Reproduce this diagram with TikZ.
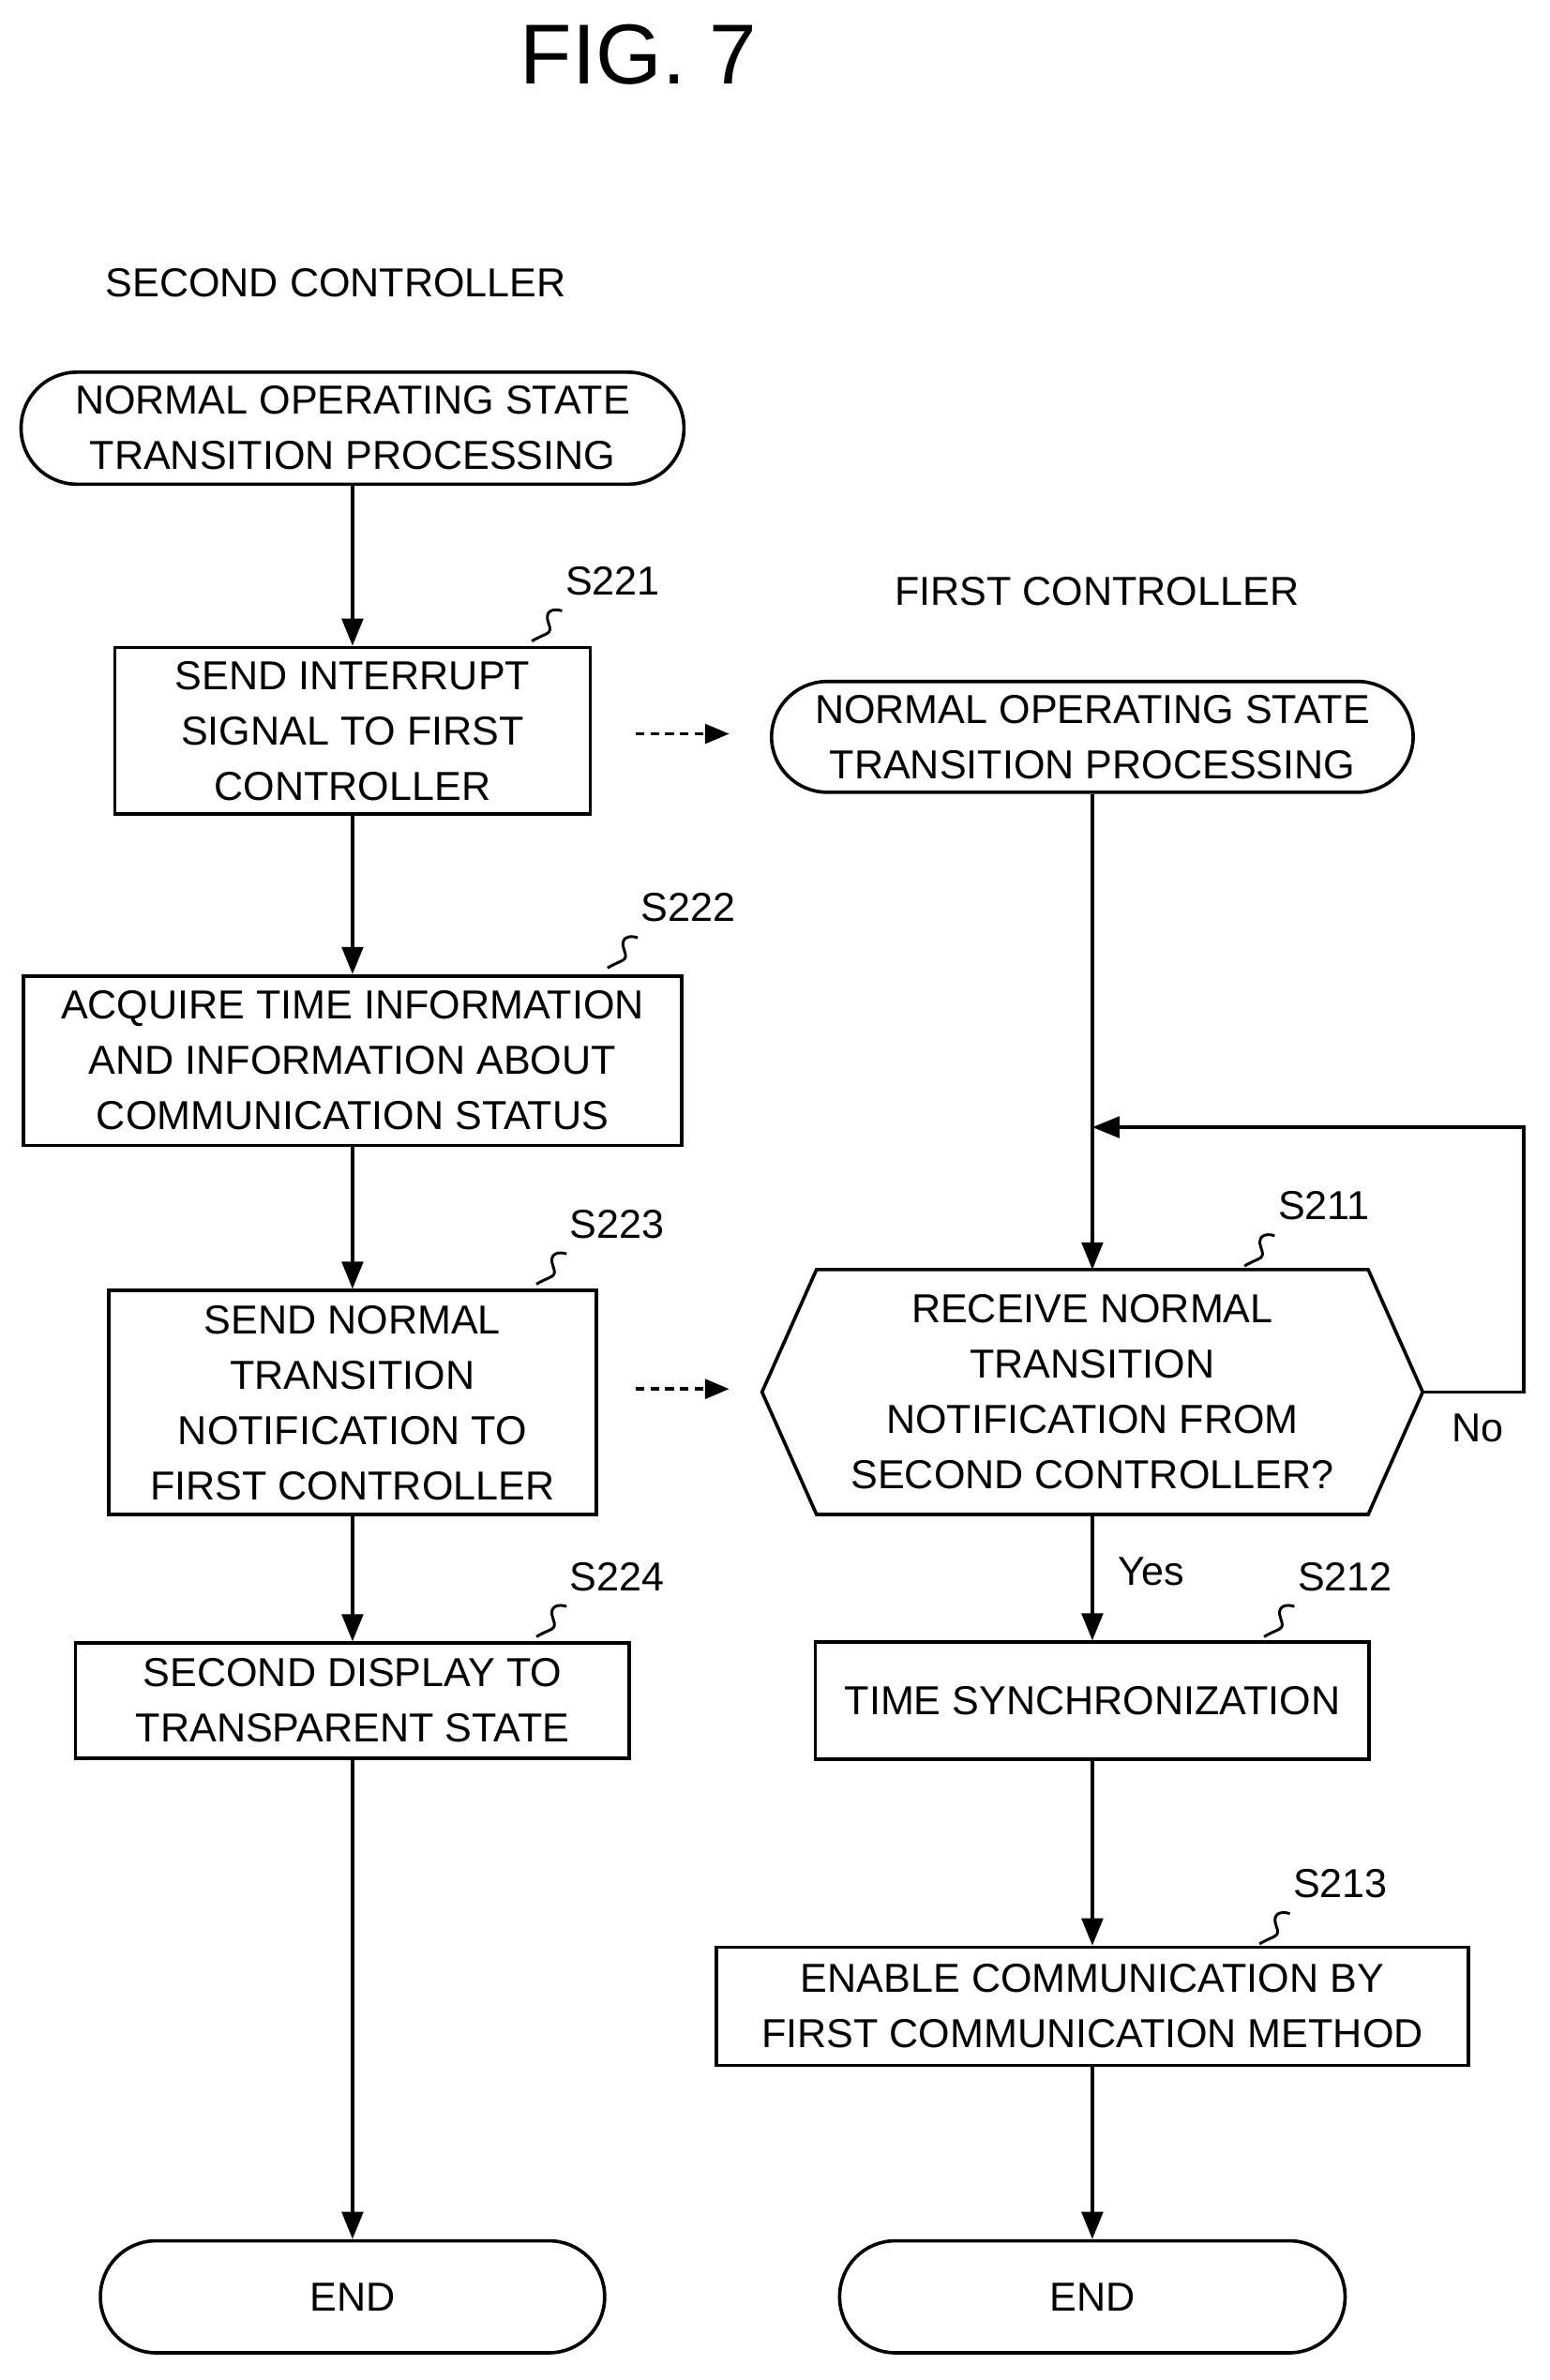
\documentclass[tikz,border=0pt]{standalone}
\usepackage{fontspec}
\setsansfont{Liberation Sans}
\usepackage{tikz}
\usetikzlibrary{arrows.meta,positioning,calc}

\tikzset{
  box/.style={draw, line width=1.6pt, align=center, inner sep=0pt},
  term/.style={box, rounded corners=0.92cm},
  flow/.style={line width=1.6pt, -{Triangle[length=0.45cm,width=0.35cm]}},
  dflow/.style={line width=1.6pt, dash pattern=on 4pt off 3pt, -{Triangle[length=0.4cm,width=0.32cm]}},
  lbl/.style={inner sep=0pt}
}
\newcommand{\squig}[1]{\draw[line width=1.3pt] ($(#1)+(-22,30)$) .. controls ($(#1)+(-12,24)$) and ($(#1)+(-8,26)$) .. ($(#1)+(-11,18)$) .. controls ($(#1)+(-14,10)$) and ($(#1)+(-8,8)$) .. ($(#1)+(-2,10)$);}

\begin{document}
\begin{tikzpicture}[x=0.025cm,y=-0.025cm,font=\sffamily\fontsize{19pt}{26pt}\selectfont]
  \useasboundingbox (0,0) rectangle (1024,1573);
  \node[lbl, font=\sffamily\fontsize{40pt}{40pt}\selectfont] (fig) at (422,36) {FIG. 7};
  \node[lbl] (hdl) at (222,187) {SECOND CONTROLLER};
  \node[lbl] (hdr) at (725,391) {FIRST CONTROLLER};

  % second controller
  \node[term, minimum width=10.95cm, minimum height=1.85cm] (sl) at (233,283) {NORMAL OPERATING STATE\\TRANSITION PROCESSING};
  \node[box, minimum width=7.85cm, minimum height=2.75cm] (s221) at (233,483) {SEND INTERRUPT\\SIGNAL TO FIRST\\CONTROLLER};
  \node[box, minimum width=10.88cm, minimum height=2.8cm] (s222) at (233,701) {ACQUIRE TIME INFORMATION\\AND INFORMATION ABOUT\\COMMUNICATION STATUS};
  \node[box, minimum width=8.05cm, minimum height=3.7cm] (s223) at (233,927) {SEND NORMAL\\TRANSITION\\NOTIFICATION TO\\FIRST CONTROLLER};
  \node[box, minimum width=9.15cm, minimum height=1.9cm] (s224) at (233,1124) {SECOND DISPLAY TO\\TRANSPARENT STATE};
  \node[term, minimum width=8.33cm, minimum height=1.85cm] (el) at (233,1518) {END};

  % first controller
  \node[term, minimum width=10.6cm, minimum height=1.83cm] (sr) at (722,487) {NORMAL OPERATING STATE\\TRANSITION PROCESSING};
  \node[align=center, inner sep=0pt, minimum width=10.9cm, minimum height=4.03cm] (s211) at (722,920) {RECEIVE NORMAL\\TRANSITION\\NOTIFICATION FROM\\SECOND CONTROLLER?};
  \draw[line width=1.6pt] (s211.west) -- ([xshift=0.9cm]s211.north west) -- ([xshift=-0.9cm]s211.north east)
    -- (s211.east) -- ([xshift=-0.9cm]s211.south east) -- ([xshift=0.9cm]s211.south west) -- cycle;
  \node[box, minimum width=9.15cm, minimum height=1.93cm] (s212) at (722,1124) {TIME SYNCHRONIZATION};
  \node[box, minimum width=12.43cm, minimum height=1.95cm] (s213) at (722,1326) {ENABLE COMMUNICATION BY\\FIRST COMMUNICATION METHOD};
  \node[term, minimum width=8.35cm, minimum height=1.85cm] (er) at (722,1518) {END};

  % step labels
  \node[lbl] (l221) at (405,384) {S221};
  \node[lbl] (l222) at (455,600) {S222};
  \node[lbl] (l223) at (408,809) {S223};
  \node[lbl] (l224) at (408,1042) {S224};
  \node[lbl] (l211) at (875,797) {S211};
  \node[lbl] (l212) at (889,1042) {S212};
  \node[lbl] (l213) at (886,1245) {S213};
  \foreach \n in {l221,l222,l223,l224,l211,l212,l213}{\squig{\n.south west}}

  % connectors
  \draw[flow] (sl) -- (s221);
  \draw[flow] (s221) -- (s222);
  \draw[flow] (s222) -- (s223);
  \draw[flow] (s223) -- (s224);
  \draw[flow] (s224) -- (el);
  \draw[flow] (sr) -- (s211);
  \draw[flow] (s211) -- node[lbl, right=0.4cm, pos=0.45] (yes) {Yes} (s212);
  \draw[flow] (s212) -- (s213);
  \draw[flow] (s213) -- (er);
  \coordinate (lp) at (722,745);
  \draw[flow] (s211.east) -- (1007,920) -- (1007,745) -- (lp);
  \node[lbl] (no) at (977,944) {No};
  \coordinate (d1a) at (420,485); \coordinate (d1b) at (482,485);
  \coordinate (d2a) at (420,918); \coordinate (d2b) at (482,918);
  \draw[dflow] (d1a) -- (d1b);
  \draw[dflow] (d2a) -- (d2b);
\end{tikzpicture}
\end{document}
